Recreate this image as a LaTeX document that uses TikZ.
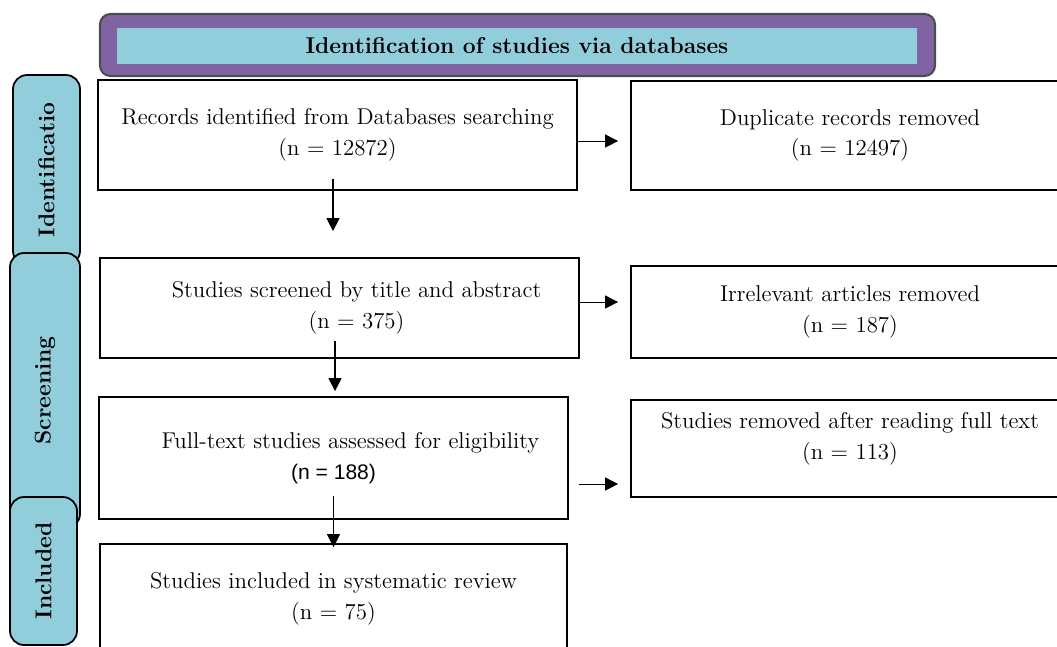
\documentclass[tikz,border=0pt]{standalone}
\usepackage{fontspec}
\newfontfamily\arialfont{Liberation Sans}
\usetikzlibrary{arrows.meta}
\definecolor{bannerpurple}{RGB}{128,100,162}
\definecolor{tabcyan}{RGB}{146,205,220}

\begin{document}
\begin{tikzpicture}[every node/.style={font=\fontsize{13}{17.5}\selectfont},
    box/.style={draw, line width=1pt, align=center, inner sep=0pt},
    tab/.style={draw, line width=1pt, fill=tabcyan, rounded corners=8pt, rotate=90,
      font=\fontsize{13}{17.5}\selectfont\bfseries},
    arrow/.style={-{Triangle[length=2.6mm,width=2.6mm]}, line width=0.7pt}]
      \clip (0,0) rectangle (21.14,-12.92);
      % Banner on top
      \node[draw=black!70, line width=1.2pt, fill=bannerpurple, rounded corners=6pt,
        minimum width=16.7cm, minimum height=1.24cm] (banner) at (10.35,-0.9) {};
      \node[fill=tabcyan, minimum width=16cm, minimum height=0.72cm,
        font=\fontsize{13}{17.5}\selectfont\bfseries] (title) at (10.34,-0.92) {Identification of studies via databases};
      % Side tabs
      \node[tab, minimum width=3.8cm, minimum height=1.34cm] (identtab) at (0.93,-3.4) {Identificatio};
      \node[tab, minimum width=5.5cm, minimum height=1.4cm] (screentab) at (0.9,-7.81) {Screening};
      \node[tab, minimum width=2.96cm, minimum height=1.34cm] (incltab) at (0.87,-11.42) {Included};
      % Main column
      \node[box, minimum width=9.58cm, minimum height=2.2cm] (rec) at (6.75,-2.7)
        {Records identified from Databases searching\\(n = 12872)};
      \node[box, minimum width=9.58cm, minimum height=2cm] (scr) at (6.79,-6.16)
        {\hspace*{0.68cm}Studies screened by title and abstract\\\hspace*{0.68cm}(n = 375)};
      \node[box, minimum width=9.38cm, minimum height=2.44cm] (full) at (6.67,-9.16)
        {\hspace*{0.68cm}Full-text studies assessed for eligibility\\{\arialfont\fontsize{12}{17.5}\selectfont (n = 188)}};
      \node[box, minimum width=9.34cm, minimum height=2.2cm] (incl) at (6.67,-11.98)
        {Studies included in systematic review\\(n = 75)};
      % Removed boxes on the right
      \node[box, minimum width=8.76cm, minimum height=2.18cm] (dup) at (17,-2.71)
        {Duplicate records removed\\(n = 12497)};
      \node[box, minimum width=8.76cm, minimum height=1.84cm] (irr) at (17,-6.24)
        {Irrelevant articles removed\\(n = 187)};
      \node[box, minimum width=8.76cm, minimum height=1.94cm, text depth=0.5cm] (rem) at (17,-8.97)
        {Studies removed after reading full text\\(n = 113)};
      % Arrows down
      \draw[arrow] ([xshift=-0.9mm,yshift=2.4mm]rec.south) -- ([xshift=-0.9mm,yshift=5.2mm]rec.south |- scr.north);
      \draw[arrow] ([xshift=-0.9mm,yshift=3.6mm]scr.south) -- ([xshift=-0.9mm,yshift=1mm]scr.south |- full.north);
      \draw[arrow] ([yshift=4.8mm]full.south) -- ([yshift=-0.8mm]full.south |- incl.north);
      % Arrows right
      \draw[arrow, line width=0.5pt, shorten >=2.4mm] ([yshift=-1.2mm]rec.east) -- ([yshift=-1.2mm]rec.east -| dup.west);
      \draw[arrow, line width=0.5pt, shorten >=2.4mm] ([yshift=1.2mm]scr.east) -- ([yshift=1.2mm]scr.east -| irr.west);
      \draw[arrow, line width=0.5pt, shorten >=2.4mm] ([xshift=2mm,yshift=-5.2mm]full.east) -- ([yshift=-5.2mm]full.east -| rem.west);
    \end{tikzpicture}
\end{document}
